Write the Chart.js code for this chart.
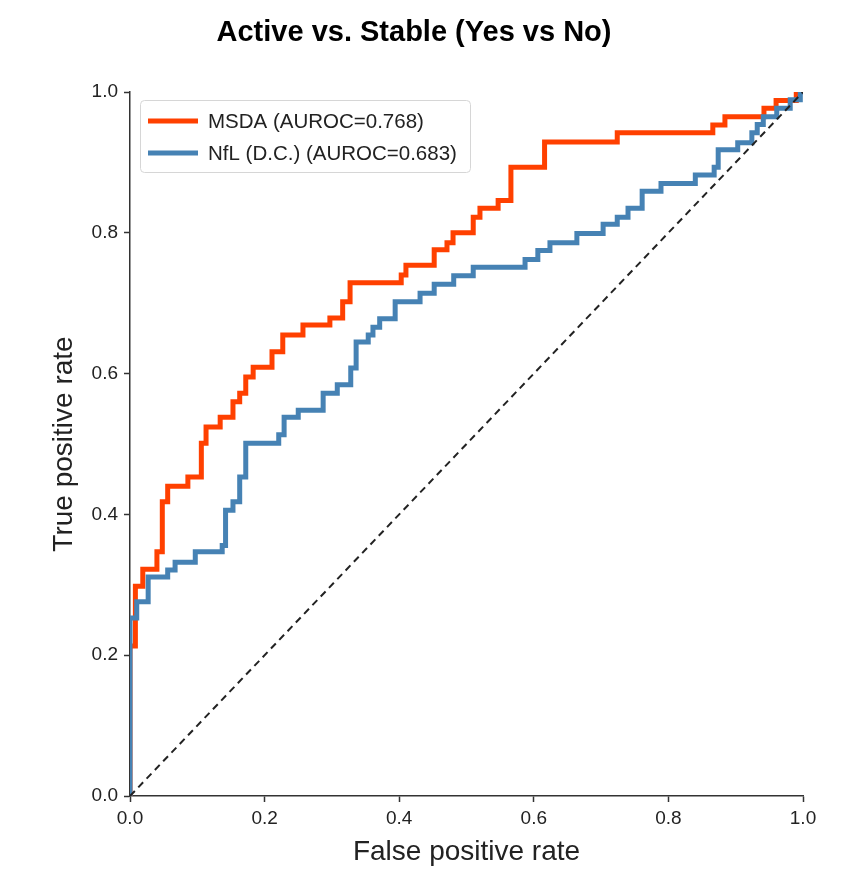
<!DOCTYPE html>
<html>
<head>
<meta charset="utf-8">
<script src="https://cdn.jsdelivr.net/npm/chart.js@4/dist/chart.umd.min.js"></script>
<style>
  html, body { margin: 0; padding: 0; background: #fff; }
  #wrap { width: 846px; height: 871px; }
</style>
</head>
<body>
<div id="wrap"><canvas id="c" width="846" height="871"></canvas></div>
<script>
const chartTitle = 'Active vs. Stable (Yes vs No)';
const xAxisTitle = 'False positive rate';
const yAxisTitle = 'True positive rate';
const xTickLabels = ['0.0', '0.2', '0.4', '0.6', '0.8', '1.0'];
const yTickLabels = ['0.0', '0.2', '0.4', '0.6', '0.8', '1.0'];

const msdaLabel = 'MSDA (AUROC=0.768)';
const msdaFpr = [0, 0, 0.008, 0.008, 0.019, 0.019, 0.04, 0.04, 0.048, 0.048, 0.056, 0.056, 0.086, 0.086, 0.106, 0.106, 0.113, 0.113, 0.134, 0.134, 0.153, 0.153, 0.163, 0.163, 0.172, 0.172, 0.183, 0.183, 0.211, 0.211, 0.227, 0.227, 0.257, 0.257, 0.297, 0.297, 0.316, 0.316, 0.327, 0.327, 0.403, 0.403, 0.41, 0.41, 0.452, 0.452, 0.471, 0.471, 0.48, 0.48, 0.51, 0.51, 0.52, 0.52, 0.547, 0.547, 0.566, 0.566, 0.616, 0.616, 0.724, 0.724, 0.866, 0.866, 0.884, 0.884, 0.942, 0.942, 0.96, 0.96, 0.99, 0.99, 1];
const msdaTpr = [0, 0.213, 0.213, 0.298, 0.298, 0.322, 0.322, 0.347, 0.347, 0.418, 0.418, 0.44, 0.44, 0.453, 0.453, 0.501, 0.501, 0.524, 0.524, 0.538, 0.538, 0.56, 0.56, 0.572, 0.572, 0.595, 0.595, 0.609, 0.609, 0.631, 0.631, 0.655, 0.655, 0.669, 0.669, 0.679, 0.679, 0.702, 0.702, 0.729, 0.729, 0.74, 0.74, 0.754, 0.754, 0.776, 0.776, 0.786, 0.786, 0.8, 0.8, 0.822, 0.822, 0.835, 0.835, 0.846, 0.846, 0.893, 0.893, 0.929, 0.929, 0.942, 0.942, 0.953, 0.953, 0.965, 0.965, 0.977, 0.977, 0.988, 0.988, 1, 1];

const nflLabel = 'NfL (D.C.) (AUROC=0.683)';
const nflFpr = [0, 0, 0.01, 0.01, 0.027, 0.027, 0.056, 0.056, 0.067, 0.067, 0.097, 0.097, 0.137, 0.137, 0.142, 0.142, 0.153, 0.153, 0.163, 0.163, 0.172, 0.172, 0.221, 0.221, 0.229, 0.229, 0.25, 0.25, 0.287, 0.287, 0.308, 0.308, 0.328, 0.328, 0.336, 0.336, 0.354, 0.354, 0.361, 0.361, 0.371, 0.371, 0.394, 0.394, 0.431, 0.431, 0.452, 0.452, 0.481, 0.481, 0.51, 0.51, 0.587, 0.587, 0.606, 0.606, 0.624, 0.624, 0.664, 0.664, 0.703, 0.703, 0.724, 0.724, 0.74, 0.74, 0.761, 0.761, 0.789, 0.789, 0.84, 0.84, 0.868, 0.868, 0.874, 0.874, 0.903, 0.903, 0.924, 0.924, 0.932, 0.932, 0.941, 0.941, 0.961, 0.961, 0.981, 0.981, 0.996, 0.996, 1];
const nflTpr = [0, 0.253, 0.253, 0.276, 0.276, 0.311, 0.311, 0.321, 0.321, 0.332, 0.332, 0.347, 0.347, 0.356, 0.356, 0.406, 0.406, 0.418, 0.418, 0.453, 0.453, 0.501, 0.501, 0.513, 0.513, 0.538, 0.538, 0.548, 0.548, 0.572, 0.572, 0.584, 0.584, 0.608, 0.608, 0.645, 0.645, 0.655, 0.655, 0.666, 0.666, 0.678, 0.678, 0.702, 0.702, 0.714, 0.714, 0.727, 0.727, 0.739, 0.739, 0.751, 0.751, 0.762, 0.762, 0.775, 0.775, 0.786, 0.786, 0.799, 0.799, 0.812, 0.812, 0.822, 0.822, 0.835, 0.835, 0.859, 0.859, 0.87, 0.87, 0.882, 0.882, 0.893, 0.893, 0.918, 0.918, 0.928, 0.928, 0.942, 0.942, 0.954, 0.954, 0.965, 0.965, 0.977, 0.977, 0.989, 0.989, 1, 1];

const chanceX = [0, 1];
const chanceY = [0, 1];

const msdaColor = '#ff4000';
const nflColor = '#4682b4';

function toPoints(xs, ys) { return xs.map((x, i) => ({ x: x, y: ys[i] })); }

const FONT = "'Liberation Sans', Arial, sans-serif";

const overlayPlugin = {
  id: 'overlay',
  afterDraw(chart) {
    const ctx = chart.ctx;
    ctx.save();
    // Title
    ctx.fillStyle = '#000';
    ctx.font = "bold 29px " + FONT;
    ctx.textAlign = 'center';
    ctx.textBaseline = 'middle';
    ctx.fillText(chartTitle, 414, 33);
    // Legend box
    const bx = 140.5, by = 100.5, bw = 330, bh = 72, r = 4;
    ctx.beginPath();
    ctx.moveTo(bx + r, by);
    ctx.lineTo(bx + bw - r, by);
    ctx.quadraticCurveTo(bx + bw, by, bx + bw, by + r);
    ctx.lineTo(bx + bw, by + bh - r);
    ctx.quadraticCurveTo(bx + bw, by + bh, bx + bw - r, by + bh);
    ctx.lineTo(bx + r, by + bh);
    ctx.quadraticCurveTo(bx, by + bh, bx, by + bh - r);
    ctx.lineTo(bx, by + r);
    ctx.quadraticCurveTo(bx, by, bx + r, by);
    ctx.closePath();
    ctx.fillStyle = 'rgba(255,255,255,0.85)';
    ctx.fill();
    ctx.strokeStyle = '#d6d6d6';
    ctx.lineWidth = 1;
    ctx.stroke();
    const entries = [
      { label: chart.data.datasets[0].label, color: chart.data.datasets[0].borderColor, y: 121 },
      { label: chart.data.datasets[1].label, color: chart.data.datasets[1].borderColor, y: 153 }
    ];
    ctx.font = "20.5px " + FONT;
    ctx.textAlign = 'left';
    entries.forEach(e => {
      ctx.strokeStyle = e.color;
      ctx.lineWidth = 5;
      ctx.beginPath();
      ctx.moveTo(148, e.y);
      ctx.lineTo(198, e.y);
      ctx.stroke();
      ctx.fillStyle = '#222';
      ctx.fillText(e.label, 208, e.y + 1);
    });
    ctx.restore();
  }
};

new Chart(document.getElementById('c'), {
  type: 'line',
  data: {
    datasets: [
      { label: msdaLabel, data: toPoints(msdaFpr, msdaTpr), borderColor: msdaColor, borderWidth: 5, pointRadius: 0, order: 2, fill: false },
      { label: nflLabel, data: toPoints(nflFpr, nflTpr), borderColor: nflColor, borderWidth: 5, pointRadius: 0, order: 1, fill: false },
      { label: 'chance', data: toPoints(chanceX, chanceY), borderColor: '#222', borderWidth: 2, borderDash: [7, 5], pointRadius: 0, order: 0, fill: false }
    ]
  },
  options: {
    responsive: false,
    animation: false,
    layout: { padding: { left: 0, right: 43, top: 92, bottom: 0 } },
    elements: { line: { tension: 0, borderCapStyle: 'butt', borderJoinStyle: 'miter' } },
    plugins: { legend: { display: false }, tooltip: { enabled: false }, title: { display: false } },
    scales: {
      x: {
        type: 'linear', min: 0, max: 1,
        afterFit: s => { s.height = 75; },
        ticks: {
          stepSize: 0.2, padding: 5, color: '#222', font: { family: FONT, size: 19 },
          callback: (v, i) => xTickLabels[i]
        },
        grid: { drawOnChartArea: false, drawTicks: true, tickLength: 6, tickColor: '#333', tickWidth: 1.5 },
        border: { display: true, color: '#333', width: 1.5 },
        title: { display: true, text: xAxisTitle, color: '#222', font: { family: FONT, size: 28 }, padding: { top: 0, bottom: 2 } }
      },
      y: {
        type: 'linear', min: 0, max: 1,
        afterFit: s => { s.width = 130; },
        ticks: {
          stepSize: 0.2, padding: 6, color: '#222', font: { family: FONT, size: 19 },
          callback: (v, i) => yTickLabels[i]
        },
        grid: { drawOnChartArea: false, drawTicks: true, tickLength: 6, tickColor: '#333', tickWidth: 1.5 },
        border: { display: true, color: '#333', width: 1.5 },
        title: { display: true, text: yAxisTitle, color: '#222', font: { family: FONT, size: 28 }, padding: { top: 47, bottom: 0 } }
      }
    }
  },
  plugins: [overlayPlugin]
});
</script>
</body>
</html>
